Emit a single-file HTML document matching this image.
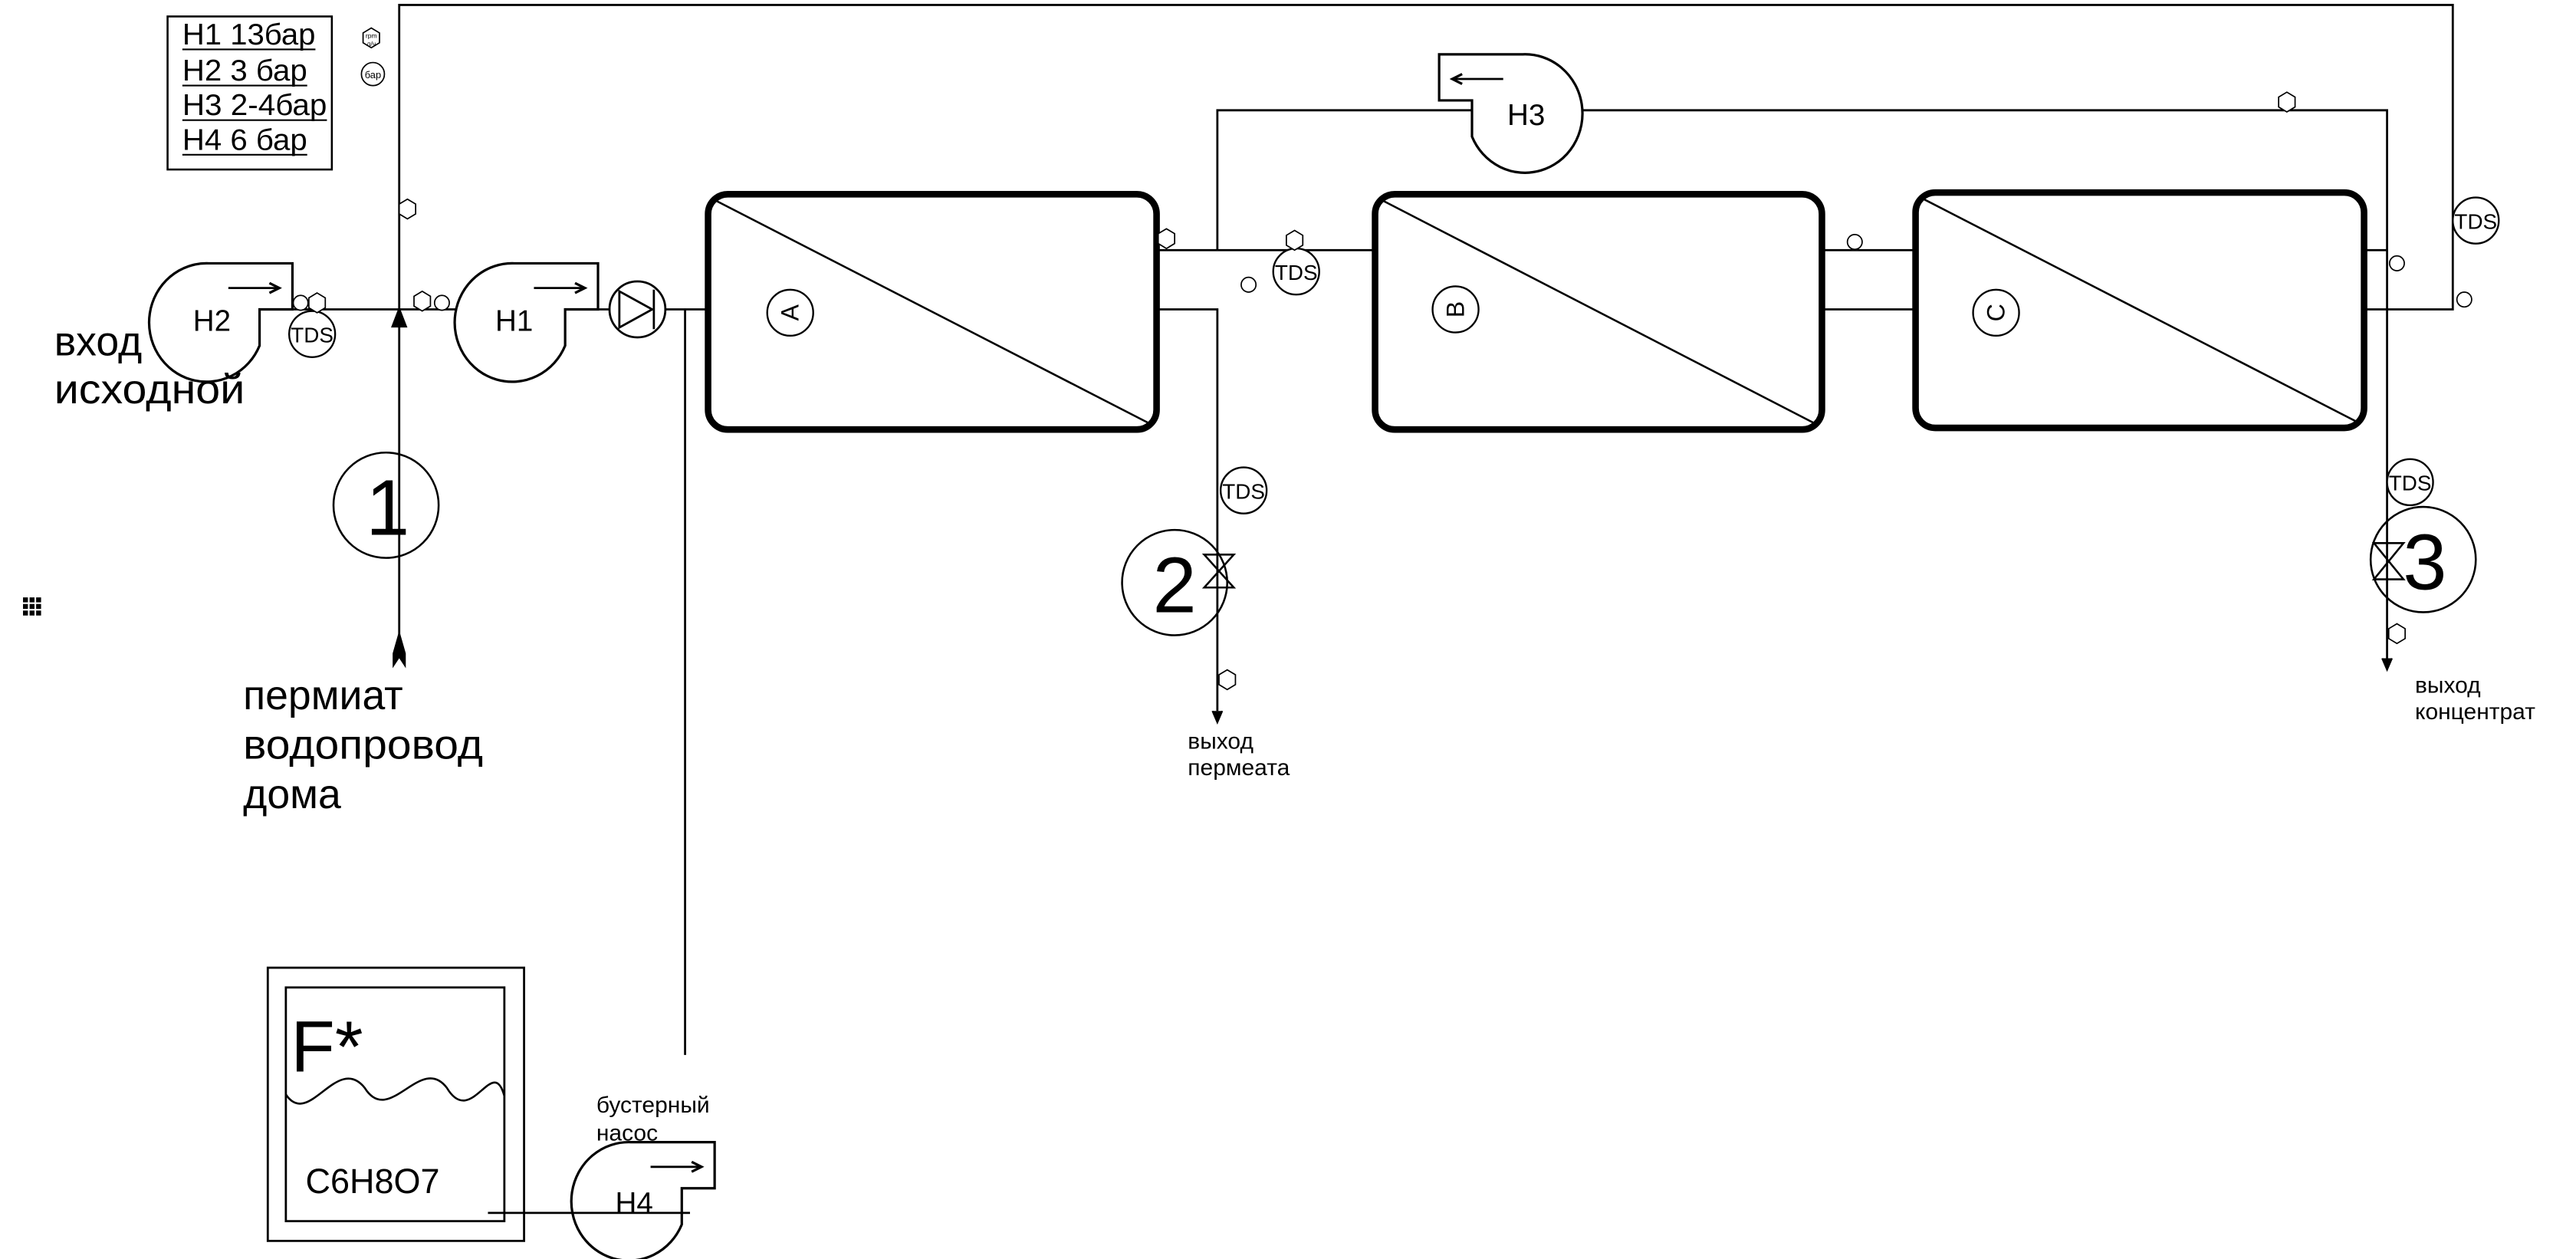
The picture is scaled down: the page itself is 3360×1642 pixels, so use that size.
<!DOCTYPE html>
<html><head><meta charset="utf-8"><style>html,body{margin:0;padding:0;background:#fff}svg{display:block}</style></head><body>
<svg width="3360" height="1642" viewBox="0 0 1568 765" preserveAspectRatio="none" xmlns="http://www.w3.org/2000/svg" font-family="Liberation Sans, DejaVu Sans, sans-serif">
<defs>
<g id="pump"><path d="M0,-35 H51 V-7 H31 V15 A35,36 0 1 1 0,-35 Z" fill="#fff" stroke="#000" stroke-width="1.5"/>
<line x1="12" y1="-20" x2="42" y2="-20" stroke="#000" stroke-width="1.3"/><path d="M37,-23 L43,-20 L37,-17" fill="none" stroke="#000" stroke-width="1.5"/></g>
<g id="hex"><polygon points="0,-6 5,-3 5,3 0,6 -5,3 -5,-3" fill="#fff" stroke="#000" stroke-width="0.8"/></g>
<g id="sc"><circle r="4.5" fill="#fff" stroke="#000" stroke-width="0.8"/></g>
</defs>
<g fill="none" stroke="#000" stroke-width="1.3">
<polyline points="243,400 243,3 1493,3 1493,188 1440,188"/>
<line x1="178" y1="188" x2="431" y2="188"/>
<line x1="417" y1="188" x2="417" y2="641"/>
<line x1="704" y1="152" x2="837" y2="152"/>
<polyline points="741,152 741,67 1453,67 1453,400"/>
<polyline points="704,188 741,188 741,432"/>
<line x1="1109" y1="152" x2="1166" y2="152"/>
<line x1="1109" y1="188" x2="1166" y2="188"/>
<line x1="1439" y1="152" x2="1453" y2="152"/>
</g>
<g fill="#fff" stroke="#000">
<rect x="431" y="118" width="273" height="143" rx="12" stroke-width="4"/>
<rect x="837" y="118" width="272" height="143" rx="12" stroke-width="4"/>
<rect x="1166" y="117" width="273" height="143" rx="12" stroke-width="4"/>
</g>
<g stroke="#000" stroke-width="1.2">
<line x1="434" y1="121" x2="701" y2="258"/>
<line x1="840" y1="121" x2="1106" y2="258"/>
<line x1="1169" y1="120" x2="1436" y2="257"/>
</g>
<g fill="none" stroke="#000" stroke-width="1.1">
<circle cx="481" cy="190" r="14"/><circle cx="886" cy="188" r="14"/><circle cx="1215" cy="190" r="14"/>
</g>
<g font-size="15" text-anchor="middle">
<text transform="translate(486,190) rotate(-90)">A</text>
<text transform="translate(891,188) rotate(-90)">B</text>
<text transform="translate(1220,190) rotate(-90)">C</text>
</g>
<use href="#pump" x="127" y="195"/>
<use href="#pump" x="313" y="195"/>
<use href="#pump" x="384" y="729"/>
<use href="#pump" transform="translate(927,68) scale(-1,1)"/>
<g font-size="18" text-anchor="middle"><text x="129" y="201">H2</text><text x="313" y="201">H1</text><text x="929" y="76">H3</text><text x="386" y="737">H4</text></g>
<line x1="297" y1="737" x2="420" y2="737" stroke="#000" stroke-width="1.3"/>
<circle cx="388" cy="188" r="17" fill="#fff" stroke="#000" stroke-width="1.3"/>
<path d="M377,177 L397,188 L377,199 Z M398,176 V200" fill="none" stroke="#000" stroke-width="1.3"/>
<polygon points="243,186 238,199 248,199" fill="#000"/>
<path d="M243,383 L239,397 L239,406 L243,400 L247,406 L247,397 Z" fill="#000"/>
<path d="M738,432 L741,439 L744,432" fill="#000" stroke="#000"/>
<path d="M1450,400 L1453,407 L1456,400" fill="#000" stroke="#000"/>
<g fill="#fff" stroke="#000" stroke-width="1.1">
<circle cx="190" cy="203" r="14"/><circle cx="789" cy="165" r="14"/><circle cx="757" cy="298" r="14"/><circle cx="1507" cy="134" r="14"/><circle cx="1467" cy="293" r="14"/>
</g>
<g font-size="13" text-anchor="middle"><text x="190" y="208">TDS</text><text x="789" y="170">TDS</text><text x="757" y="303">TDS</text><text x="1507" y="139">TDS</text><text x="1467" y="298">TDS</text></g>
<g fill="none" stroke="#000" stroke-width="1.2">
<circle cx="235" cy="307" r="32"/><circle cx="715" cy="354" r="32"/><circle cx="1475" cy="340" r="32"/>
<path d="M733,337 H751 L733,357 H751 Z"/>
<path d="M1445,330 H1463 L1445,352 H1463 Z"/>
</g>
<g font-size="48" text-anchor="middle"><text x="236" y="325">1</text><text x="715" y="372">2</text><text x="1476" y="358">3</text></g>
<use href="#hex" x="226" y="23"/>
<circle cx="227" cy="45" r="7" fill="#fff" stroke="#000" stroke-width="0.8"/>
<text x="227" y="47.5" font-size="6" text-anchor="middle">бар</text>
<text x="226" y="23" font-size="4" text-anchor="middle">rpm</text><text x="226" y="28" font-size="4" text-anchor="middle">л/ч</text>
<use href="#hex" x="248" y="127"/>
<use href="#sc" x="183" y="184"/><use href="#hex" x="193" y="184"/>
<use href="#hex" x="257" y="183"/><use href="#sc" x="269" y="184"/>
<use href="#hex" x="710" y="145"/><use href="#hex" x="788" y="146"/><use href="#sc" x="760" y="173"/>
<use href="#sc" x="1129" y="147"/><use href="#hex" x="1392" y="62"/><use href="#sc" x="1459" y="160"/>
<use href="#sc" x="1500" y="182"/><use href="#hex" x="1459" y="385"/><use href="#hex" x="747" y="413"/>
<rect x="102" y="10" width="100" height="93" fill="none" stroke="#000" stroke-width="1.2"/>
<g font-size="18"><text x="111" y="27" textLength="81" lengthAdjust="spacingAndGlyphs">H1 13бар</text><text x="111" y="49" textLength="76" lengthAdjust="spacingAndGlyphs">H2 3 бар</text><text x="111" y="70" textLength="88" lengthAdjust="spacingAndGlyphs">H3 2-4бар</text><text x="111" y="91" textLength="76" lengthAdjust="spacingAndGlyphs">H4 6 бар</text></g>
<g stroke="#000" stroke-width="1"><line x1="111" y1="30" x2="192" y2="30"/><line x1="111" y1="52" x2="187" y2="52"/><line x1="111" y1="73" x2="199" y2="73"/><line x1="111" y1="94" x2="187" y2="94"/></g>
<g font-size="25"><text x="33" y="216">вход</text><text x="33" y="245" textLength="116" lengthAdjust="spacingAndGlyphs">исходной</text>
<text x="148" y="431">пермиат</text><text x="148" y="461" textLength="146" lengthAdjust="spacingAndGlyphs">водопровод</text><text x="148" y="491">дома</text></g>
<g font-size="14"><text x="723" y="455">выход</text><text x="723" y="471">пермеата</text>
<text x="1470" y="421">выход</text><text x="1470" y="437">концентрат</text>
<text x="363" y="676">бустерный</text><text x="363" y="693">насос</text></g>
<rect x="163" y="588" width="156" height="166" fill="none" stroke="#000" stroke-width="1.3"/>
<rect x="174" y="600" width="133" height="142" fill="none" stroke="#000" stroke-width="1.3"/>
<text x="177" y="651" font-size="44">F*</text>
<path d="M174,665 C188,686 205,640 222,661 C237,685 256,640 272,661 C287,686 300,640 307,666" fill="none" stroke="#000" stroke-width="1.2"/>
<text x="186" y="725" font-size="21">C6H8O7</text>
<g fill="#000"><rect x="14" y="363" width="3" height="3"/><rect x="18" y="363" width="3" height="3"/><rect x="22" y="363" width="3" height="3"/><rect x="14" y="367" width="3" height="3"/><rect x="18" y="367" width="3" height="3"/><rect x="22" y="367" width="3" height="3"/><rect x="14" y="371" width="3" height="3"/><rect x="18" y="371" width="3" height="3"/><rect x="22" y="371" width="3" height="3"/></g>
</svg>
</body></html>
